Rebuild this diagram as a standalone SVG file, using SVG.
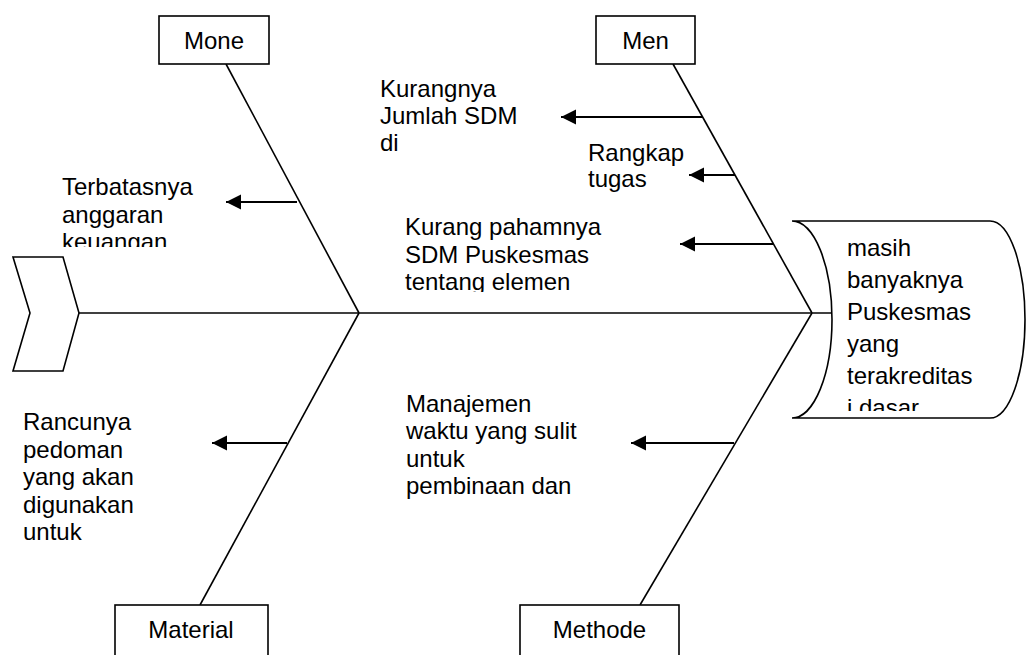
<svg xmlns="http://www.w3.org/2000/svg" width="1026" height="655" viewBox="0 0 1026 655">
<style>
.bone{stroke:#000;stroke-width:1.6;fill:none}
.box{stroke:#000;stroke-width:1.6;fill:#fff}
.arr{stroke:#000;stroke-width:2.2;fill:none;marker-end:url(#ah)}
text{font-family:"Liberation Sans",Arial,sans-serif;font-size:24px;fill:#000}
.c{text-anchor:middle}
</style>
<defs>
<marker id="ah" markerUnits="userSpaceOnUse" markerWidth="16" markerHeight="16" refX="15" refY="7.5" orient="auto">
<path d="M0,0 L15,7.5 L0,15 Z" fill="#000"/>
</marker>
<clipPath id="c1"><rect x="50" y="170" width="200" height="77"/></clipPath>
<clipPath id="c2"><rect x="395" y="205" width="260" height="87"/></clipPath>
<clipPath id="c3"><rect x="840" y="225" width="150" height="186"/></clipPath>
</defs>
<g id="connectors">
<line class="bone" x1="79" y1="313" x2="832" y2="313"/>
<line class="bone" x1="226" y1="64" x2="359" y2="313"/>
<line class="bone" x1="359" y1="313" x2="200" y2="605"/>
<line class="bone" x1="673" y1="64" x2="812" y2="313"/>
<line class="bone" x1="812" y1="313" x2="640" y2="605"/>
<line class="arr" x1="297" y1="202" x2="226" y2="202"/>
<line class="arr" x1="703" y1="117" x2="561" y2="117"/>
<line class="arr" x1="735" y1="175" x2="689" y2="175"/>
<line class="arr" x1="773" y1="244" x2="680" y2="244"/>
<line class="arr" x1="287" y1="443" x2="212" y2="443"/>
<line class="arr" x1="734" y1="443" x2="631" y2="443"/>
</g>
<g id="tail">
<polygon class="box" points="13,257 63,257 79,313 63,371 13,371 30,313"/>
</g>
<g id="head">
<path class="box" d="M792,221 L990,221 A35,98.5 0 0 1 990,418 L792,418 A40,98.5 0 0 0 792,221 Z"/>
<g clip-path="url(#c3)">
<text x="847" y="256">masih</text>
<text x="847" y="288">banyaknya</text>
<text x="847" y="320">Puskesmas</text>
<text x="847" y="352">yang</text>
<text x="847" y="384">terakreditas</text>
<text x="847" y="416">i dasar</text>
</g>
</g>
<g id="mone">
<rect class="box" x="159" y="16" width="110" height="48"/>
<text class="c" x="214" y="49">Mone</text>
</g>
<g id="men">
<rect class="box" x="596" y="16" width="99" height="48"/>
<text class="c" x="645.5" y="49">Men</text>
</g>
<g id="material">
<rect class="box" x="115" y="605" width="153" height="60"/>
<text class="c" x="191" y="638">Material</text>
</g>
<g id="methode">
<rect class="box" x="520" y="605" width="159" height="60"/>
<text class="c" x="599.5" y="638">Methode</text>
</g>
<g id="cause-terbatas" clip-path="url(#c1)">
<text x="62" y="195">Terbatasnya</text>
<text x="62" y="222.5">anggaran</text>
<text x="62" y="250">keuangan</text>
</g>
<g id="cause-kurangnya">
<text x="380" y="97">Kurangnya</text>
<text x="380" y="124">Jumlah SDM</text>
<text x="380" y="151">di</text>
</g>
<g id="cause-rangkap">
<text x="588" y="160.5">Rangkap</text>
<text x="588" y="187">tugas</text>
</g>
<g id="cause-paham" clip-path="url(#c2)">
<text x="405" y="235">Kurang pahamnya</text>
<text x="405" y="262.5">SDM Puskesmas</text>
<text x="405" y="290">tentang elemen</text>
</g>
<g id="cause-rancu">
<text x="23" y="430">Rancunya</text>
<text x="23" y="457.5">pedoman</text>
<text x="23" y="485">yang akan</text>
<text x="23" y="512.5">digunakan</text>
<text x="23" y="540">untuk</text>
</g>
<g id="cause-manajemen">
<text x="406" y="411.5">Manajemen</text>
<text x="406" y="439">waktu yang sulit</text>
<text x="406" y="466.5">untuk</text>
<text x="406" y="494">pembinaan dan</text>
</g>
</svg>
